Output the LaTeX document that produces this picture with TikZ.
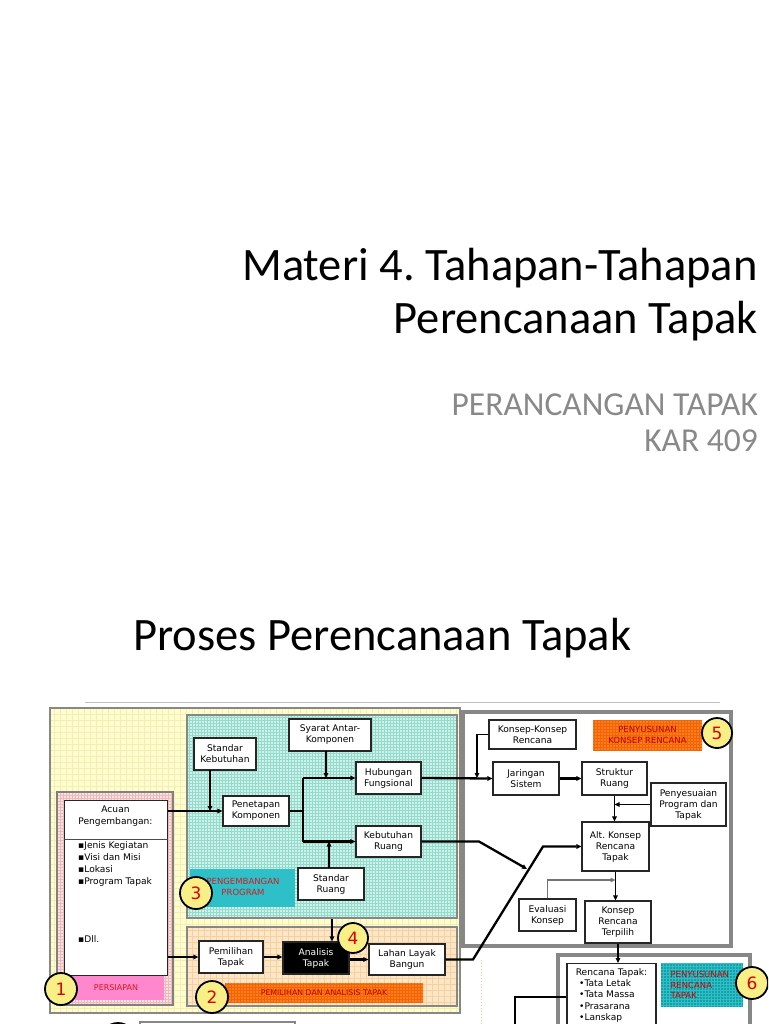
\documentclass[tikz,border=0pt]{standalone}
\usepackage{fontspec}
\setmainfont{Carlito}
\newfontfamily\dv{DejaVu Sans}
\usetikzlibrary{arrows.meta,calc}
\frenchspacing
\definecolor{ylwbg}{RGB}{255,253,205}
\definecolor{ylwgr}{RGB}{242,238,180}
\definecolor{pnkbg}{RGB}{250,226,226}
\definecolor{pnkgr}{RGB}{238,185,185}
\definecolor{tealbg}{RGB}{205,242,232}
\definecolor{tealgr}{RGB}{150,218,205}
\definecolor{orgbg}{RGB}{253,230,195}
\definecolor{orggr}{RGB}{243,208,165}
\definecolor{pnklab}{RGB}{255,135,205}
\definecolor{teallab}{RGB}{45,192,200}
\definecolor{teallabg}{RGB}{20,160,165}
\definecolor{orglab}{RGB}{255,125,25}
\definecolor{orglabg}{RGB}{240,100,10}
\definecolor{redtxt}{RGB}{215,25,30}
\definecolor{circfill}{RGB}{248,240,135}
\definecolor{pgray}{RGB}{135,135,135}
\definecolor{subgray}{RGB}{137,137,137}
\newcommand\gridpanel[7]{%
  \fill[#5] (#1,#2) rectangle (#3,#4);
  \begin{scope}
    \clip (#1,#2) rectangle (#3,#4);
    \draw[#6, line width=0.5pt, step=#7pt] (#1,#2) grid (#3,#4);
  \end{scope}}
\begin{document}
\begin{tikzpicture}[x=1pt,y=-1pt,
  box/.style={draw=black!85, line width=1.2pt, fill=white, align=center,
    inner sep=1pt, font=\dv\fontsize{9.1}{11}\selectfont},
  lab/.style={text=redtxt, align=center, font=\dv\fontsize{8.5}{10.5}\selectfont},
  numc/.style={circle, draw=black, line width=1.8pt, fill=circfill,
    minimum size=#1, inner sep=0pt, text=red!85!black,
    font=\dv\fontsize{17}{17}\selectfont},
  arr/.style={-{Triangle[length=5pt,width=4.5pt]}},
  thn/.style={line width=1.2pt, draw=black},
  thk/.style={line width=2.3pt, draw=black},
  panelb/.style={draw=pgray, line width=2.8pt},
  txt/.style={inner sep=0pt}]
\useasboundingbox (0,0) rectangle (768,1024);
\clip (0,0) rectangle (768,1024);

% titles
\node[txt, anchor=base east, font=\fontsize{46.5}{50}\selectfont] (t1) at (758,280) {Materi 4. Tahapan-Tahapan};
\node[txt, anchor=base east, font=\fontsize{46.5}{50}\selectfont] (t2) at (758,333) {Perencanaan Tapak};
\node[txt, anchor=base east, text=subgray, font=\fontsize{33.5}{36}\selectfont] (s1) at (758,415) {PERANCANGAN TAPAK};
\node[txt, anchor=base east, text=subgray, font=\fontsize{33.5}{36}\selectfont] (s2) at (758,451) {KAR 409};
\node[txt, anchor=base west, font=\fontsize{46.5}{50}\selectfont] (t3) at (133,650) {Proses Perencanaan Tapak};
\draw[black!25, line width=1pt] (85,702) -- (720,702);

% panels
\gridpanel{50}{708}{460}{1013}{ylwbg}{ylwgr}{6}
\draw[panelb] (50,708) rectangle (460,1013);
\gridpanel{57}{792}{173}{1005}{pnkbg}{pnkgr}{3}
\draw[panelb, draw=black!50] (57,792) rectangle (173,1005);
\gridpanel{187}{715}{457}{918}{tealbg}{tealgr}{3}
\draw[panelb] (187,715) rectangle (457,918);
\gridpanel{187}{927}{457}{1006}{orgbg}{orggr}{6}
\draw[panelb] (187,927) rectangle (457,1006);
\fill[white] (463,712) rectangle (731,946);
\draw[panelb, line width=3.5pt] (463,712) rectangle (731,946);
\fill[white] (558,955) rectangle (750,1040);
\draw[panelb, line width=3.5pt] (558,955) rectangle (750,1040);
\draw[orange!40, dotted, line width=1pt] (481,960) -- (481,1024);

% labels (coloured bars)
\fill[pnklab] (73,976) rectangle (164,1000);
\node[lab, font=\dv\fontsize{8}{10}\selectfont] (lp) at (116,988) {PERSIAPAN};
\fill[teallab] (190,869) rectangle (295,907);
\node[lab] (lpp) at (243,887) {PENGEMBANGAN\\PROGRAM};
\gridpanel{225}{983}{423}{1002}{orglab}{orglabg}{3}
\node[lab, text=red!75!black, font=\dv\fontsize{7.8}{10}\selectfont] (lpa) at (324,992.5) {PEMILIHAN DAN ANALISIS TAPAK};
\gridpanel{593}{720}{702}{750}{orglab}{orglabg}{3}
\node[lab, text=red!75!black] (lkr) at (647.5,735) {PENYUSUNAN\\KONSEP RENCANA};
\gridpanel{661}{963}{743}{1007}{teallabg}{teallab}{3}
\node[lab, align=left, anchor=north west, text=red!80!black] (lrt) at (667,968) {PENYUSUNAN\\RENCANA\\TAPAK};

% boxes
\node[box, minimum width=103, minimum height=175, anchor=north west] (acu) at (64,800) {};
\node[txt, align=center, font=\dv\fontsize{9.1}{12}\selectfont] (acut) at (115.5,816) {Acuan\\Pengembangan:};
\draw[black!70, line width=0.8pt] (acu.west |- 0,839) -- (acu.east |- 0,839);
\node[txt, anchor=north west, align=left, font=\dv\fontsize{9.1}{12}\selectfont] (acul) at (78,841) {▪Jenis Kegiatan\\▪Visi dan Misi\\▪Lokasi\\▪Program Tapak};
\node[txt, anchor=north west, font=\dv\fontsize{9.1}{12}\selectfont] (acud) at (78,935) {▪Dll.};

\node[box, minimum width=62, minimum height=32] (stk) at (225,754) {Standar\\Kebutuhan};
\node[box, minimum width=66, minimum height=30] (pen) at (256,811) {Penetapan\\Komponen};
\node[box, minimum width=82, minimum height=32] (sya) at (330,735) {Syarat Antar-\\Komponen};
\node[box, minimum width=65, minimum height=32] (hub) at (388.5,778) {Hubungan\\Fungsional};
\node[box, minimum width=65, minimum height=31] (keb) at (388.5,841.5) {Kebutuhan\\Ruang};
\node[box, minimum width=66, minimum height=32] (sru1) at (331,884) {Standar\\Ruang};

\node[box, minimum width=64, minimum height=32] (pem) at (231,957) {Pemilihan\\Tapak};
\node[box, minimum width=66, minimum height=32, fill=black, text=white] (ana) at (316,958) {Analisis\\Tapak};
\node[box, minimum width=76, minimum height=31] (lah) at (407,959.5) {Lahan Layak\\Bangun};

\node[box, minimum width=87, minimum height=29] (kkr) at (532.5,734.5) {Konsep-Konsep\\Rencana};
\node[box, minimum width=66, minimum height=33] (jar) at (526,778.5) {Jaringan\\Sistem};
\node[box, minimum width=65, minimum height=33] (sru) at (614.5,778.5) {Struktur\\Ruang};
\node[box, minimum width=75, minimum height=43] (pps) at (688.5,804.5) {Penyesuaian\\Program dan\\Tapak};
\node[box, minimum width=67, minimum height=49] (alt) at (615.5,846.5) {Alt. Konsep\\Rencana\\Tapak};
\node[box, minimum width=57, minimum height=32] (eva) at (547.5,915) {Evaluasi\\Konsep};
\node[box, minimum width=66, minimum height=42] (krt) at (618,922) {Konsep\\Rencana\\Terpilih};

\node[box, minimum width=89, minimum height=80, anchor=north] (rt) at (611.5,963) {};
\node[txt, font=\dv\fontsize{9.1}{11.5}\selectfont] (rtt) at (611.5,973) {Rencana Tapak:};
\node[txt, anchor=north west, align=left, font=\dv\fontsize{9.1}{11.5}\selectfont] (rtl) at (579,979) {•Tata Letak\\•Tata Massa\\•Prasarana\\•Lanskap};

% coordinates for connectors
\coordinate (jA) at (303,778);
\coordinate (jB) at (303,841.5);
\coordinate (sk) at (210,770);
\coordinate (sy) at (326,751);
\coordinate (sr) at (329,868);
\coordinate (vt) at (332,919);
\coordinate (k1) at (479,841.5);
\coordinate (k2) at (527,869);
\coordinate (l1) at (473,959.5);
\coordinate (l2) at (543,846.5);
\coordinate (kj) at (477,778);
\coordinate (ej) at (615.5,880);
\coordinate (r1) at (515,997);
\coordinate (r2) at (515,1030);

% connectors
\draw[thn, arr] (acu.east |- pen.west) -- (pen.west);
\draw[thn, arr] (sk) -- (sk |- pen.west);
\draw[thk] (pen.east) -- (pen.east -| jA);
\draw[thk] (jA) -- (jB);
\draw[thk, arr] (jA) -- (hub.west);
\draw[thk, arr] (jB) -- (keb.west);
\draw[thn, arr] (sy) -- (sy |- hub.west);
\draw[thn, arr] (sr) -- (sr |- keb.west);
\draw[thk, arr] (hub.east) -- (jar.west);
\draw[thk, arr] (keb.east) -- (k1) -- (k2);
\draw[thk, arr] (acu.east |- pem.west) -- (pem.west);
\draw[thk, arr] (pem.east) -- (pem.east -| ana.west);
\draw[thk, arr] (ana.east |- lah.west) -- (lah.west);
\draw[thn, arr] (vt) -- (vt |- ana.north);
\draw[thk, arr] (lah.east) -- (l1) -- (l2) -- (alt.west);
\draw[thn, arr] (kkr.west) -| (kj);
\draw[thk, arr] (jar.east) -- (sru.west);
\draw[thn, arr] (sru.south) -- (sru.south |- alt.north);
\draw[thn, arr] (pps.west) -- (pps.west -| sru.south);
\draw[thn, arr] (alt.south) -- (alt.south |- krt.north);
\draw[thn, draw=black!55, arr] (eva.north) |- (ej);
\draw[thn, arr] (krt.south) -- (krt.south |- rt.north);
\draw[thk] (rt.west |- r1) -- (r1) -- (r2);

% number circles
\node[numc=32pt] (c1) at (61,989) {1};
\node[numc=32pt] (c2) at (212,997) {2};
\node[numc=32pt] (c3) at (196,893) {3};
\node[numc=30pt] (c4) at (353,938) {4};
\node[numc=30pt] (c5) at (717,733) {5};
\node[numc=32pt] (c6) at (752,983) {6};

% cut-off items at bottom
\node[numc=36pt] (c7) at (118,1041) {};
\draw[draw=pgray, line width=1.5pt, fill=white] (140,1022) rectangle (295,1060);
\end{tikzpicture}
\end{document}
